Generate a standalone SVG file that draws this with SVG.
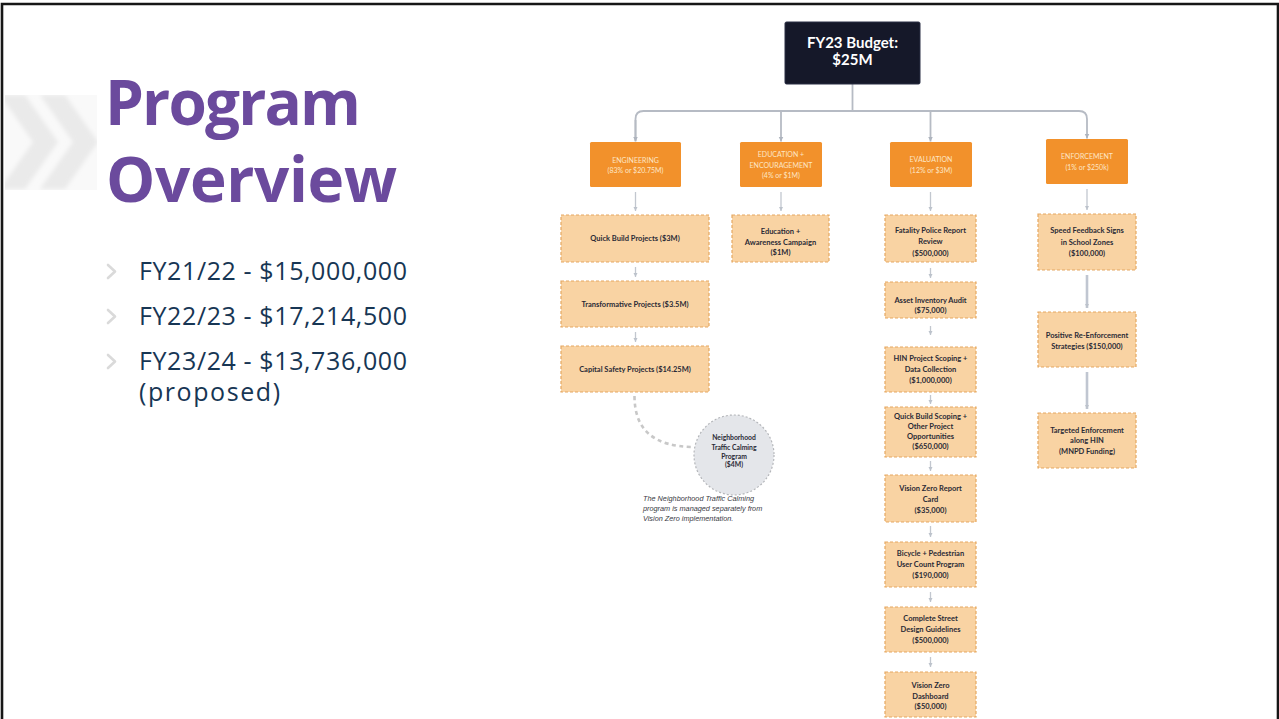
<svg xmlns="http://www.w3.org/2000/svg" width="1279" height="719" viewBox="0 0 1279 719">
  <defs>
    <style>
      .title { font-family: "Open Sans", Lato, sans-serif; font-weight: 700; font-size: 62px; fill: #6b4a9d; }
      .bullet { font-family: "Open Sans", Lato, sans-serif; font-weight: 400; font-size: 25px; fill: #173654; }
      .chev { fill: none; stroke: #dadada; stroke-width: 2.6; stroke-linecap: round; stroke-linejoin: round; }
      .root { fill: #151829; stroke: #2a2f45; stroke-width: 1; }
      .root-t { font-family: Lato, "Noto Sans", sans-serif; font-weight: 700; font-size: 15px; fill: #ffffff; text-anchor: middle; }
      .cat { fill: #f2912b; }
      .cat-t { font-family: Lato, "Noto Sans", sans-serif; font-weight: 400; font-size: 7px; fill: #fde6c6; text-anchor: middle; }
      .leaf { fill: #f9d3a3; stroke: #e5a862; stroke-width: 1.2; stroke-dasharray: 3 2; }
      .leaf-t { font-family: Lato, "Noto Sans", sans-serif; font-weight: 700; font-size: 7.5px; fill: #2a2a36; text-anchor: middle; }
      .ntc { fill: #e4e6ea; stroke: #b4b6ba; stroke-width: 1.2; stroke-dasharray: 2 2; }
      .ntc-t { font-family: Lato, "Noto Sans", sans-serif; font-weight: 700; font-size: 6.8px; fill: #2a2a36; text-anchor: middle; }
      .note { font-family: "Liberation Sans", Arial, sans-serif; font-style: italic; font-size: 7.3px; fill: #3a3a44; }
      .trunk { fill: none; stroke: #b6bbc4; stroke-width: 1.8; }
      .step { fill: none; stroke: #c2c7cf; stroke-width: 1.3; }
      .step-wide { fill: none; stroke: #c0c6d1; stroke-width: 2.6; }
      .sep { fill: none; stroke: #c8c8c8; stroke-width: 2.6; stroke-dasharray: 4 3.5; }
    </style>
    <marker id="ah" markerWidth="6" markerHeight="6" refX="5" refY="3" orient="auto" markerUnits="userSpaceOnUse">
      <path d="M0,0.5 L5,3 L0,5.5 z" fill="#aeb4be"/>
    </marker>
    <marker id="ahs" markerWidth="5" markerHeight="5" refX="4" refY="2.5" orient="auto" markerUnits="userSpaceOnUse">
      <path d="M0,0.5 L4,2.5 L0,4.5 z" fill="#bcc2cb"/>
    </marker>
    <filter id="soft" x="-10%" y="-10%" width="120%" height="120%">
      <feGaussianBlur stdDeviation="2.2"/>
    </filter>
    <clipPath id="decoClip">
      <rect x="5" y="95" width="92" height="95"/>
    </clipPath>
  </defs>

  <!-- page -->
  <rect x="0" y="0" width="1279" height="719" fill="#ffffff"/>
  <path d="M2,719 V4 H1278 V719" fill="none" stroke="#161616" stroke-width="2.6"/>

  <!-- faint double chevron ornament -->
  <g clip-path="url(#decoClip)">
    <rect x="5" y="95" width="92" height="95" fill="#f9f9f9"/>
    <g filter="url(#soft)" fill="#eaeaea">
      <polygon points="0,95 25,95 58,142 25,189 0,189 33,142"/>
      <polygon points="40,95 65,95 98,142 65,189 40,189 73,142"/>
    </g>
  </g>

  <!-- heading -->
  <text class="title" x="105" y="125" textLength="256" lengthAdjust="spacing">Program</text>
  <text class="title" x="106" y="202" textLength="291" lengthAdjust="spacing">Overview</text>

  <!-- budget history -->
  <g id="bullets">
    <path class="chev" d="M108,265 L115,271.5 L108,278"/>
    <path class="chev" d="M108,310 L115,316.5 L108,323"/>
    <path class="chev" d="M108,355 L115,361.5 L108,368"/>
    <text class="bullet" x="139" y="280" textLength="268" lengthAdjust="spacing">FY21/22 - $15,000,000</text>
    <text class="bullet" x="139" y="325" textLength="268" lengthAdjust="spacing">FY22/23 - $17,214,500</text>
    <text class="bullet" x="139" y="370" textLength="268" lengthAdjust="spacing">FY23/24 - $13,736,000</text>
    <text class="bullet" x="139" y="401" textLength="141" lengthAdjust="spacing">(proposed)</text>
  </g>

  <!-- connectors -->
  <g id="connectors">
    <path class="trunk" d="M852.5,84 V111"/>
    <path class="trunk" d="M635.5,141 V119 Q635.5,111 643.5,111 H1079 Q1087,111 1087,119 V138.5" marker-end="url(#ah)"/>
    <path class="trunk" d="M635.5,120 V141.5" marker-end="url(#ah)"/>
    <path class="trunk" d="M781,111 V141.5" marker-end="url(#ah)"/>
    <path class="trunk" d="M930.5,111 V141.5" marker-end="url(#ah)"/>

    <!-- engineering -->
    <path class="step" d="M635.5,192 V211" marker-end="url(#ahs)"/>
    <path class="step" d="M635.5,267 V277" marker-end="url(#ahs)"/>
    <path class="step" d="M635.5,332 V342" marker-end="url(#ahs)"/>
    <path class="sep" d="M634.5,396 C634.5,432 656,446 692,447"/>

    <!-- education -->
    <path class="step" d="M781,192 V211" marker-end="url(#ahs)"/>

    <!-- evaluation -->
    <path class="step" d="M930.5,192 V211" marker-end="url(#ahs)"/>
    <path class="step" d="M930.5,268 V278" marker-end="url(#ahs)"/>
    <path class="step" d="M930.5,326 V335" marker-end="url(#ahs)"/>
    <path class="step" d="M930.5,395 V404" marker-end="url(#ahs)"/>
    <path class="step" d="M930.5,461 V471" marker-end="url(#ahs)"/>
    <path class="step" d="M930.5,526 V537" marker-end="url(#ahs)"/>
    <path class="step" d="M930.5,592 V602" marker-end="url(#ahs)"/>
    <path class="step" d="M930.5,657 V667" marker-end="url(#ahs)"/>

    <!-- enforcement -->
    <path class="step" d="M1087,189 V210" marker-end="url(#ahs)"/>
    <path class="step-wide" d="M1087,275 V308" marker-end="url(#ahs)"/>
    <path class="step-wide" d="M1087,372 V409" marker-end="url(#ahs)"/>
  </g>

  <!-- root -->
  <g id="budget">
    <rect class="root" x="785" y="22" width="135" height="62" rx="1.5"/>
    <text class="root-t" x="852.5" y="48">FY23 Budget:</text>
    <text class="root-t" x="852.5" y="65">$25M</text>
  </g>

  <!-- categories -->
  <g id="engineering">
    <rect class="cat" x="590" y="142" width="91" height="45" rx="1.5"/>
    <text class="cat-t" x="635.5" y="162.5">ENGINEERING</text>
    <text class="cat-t" x="635.5" y="173">(83% or $20.75M)</text>
  </g>
  <g id="education">
    <rect class="cat" x="740" y="142" width="82" height="45" rx="1.5"/>
    <text class="cat-t" x="781" y="157">EDUCATION +</text>
    <text class="cat-t" x="781" y="167.5">ENCOURAGEMENT</text>
    <text class="cat-t" x="781" y="178">(4% or $1M)</text>
  </g>
  <g id="evaluation">
    <rect class="cat" x="890" y="142" width="82" height="45" rx="1.5"/>
    <text class="cat-t" x="931" y="161.5">EVALUATION</text>
    <text class="cat-t" x="931" y="173">(12% or $3M)</text>
  </g>
  <g id="enforcement">
    <rect class="cat" x="1046" y="139" width="82" height="45" rx="1.5"/>
    <text class="cat-t" x="1087" y="159">ENFORCEMENT</text>
    <text class="cat-t" x="1087" y="169.5">(1% or $250k)</text>
  </g>

  <!-- engineering items -->
  <g id="quick-build">
    <rect class="leaf" x="561" y="215" width="148" height="47"/>
    <text class="leaf-t" x="635" y="241">Quick Build Projects ($3M)</text>
  </g>
  <g id="transformative">
    <rect class="leaf" x="561" y="281" width="148" height="46"/>
    <text class="leaf-t" x="635" y="306.5">Transformative Projects ($3.5M)</text>
  </g>
  <g id="capital-safety">
    <rect class="leaf" x="561" y="346" width="148" height="46"/>
    <text class="leaf-t" x="635" y="371.5">Capital Safety Projects ($14.25M)</text>
  </g>
  <g id="traffic-calming">
    <circle class="ntc" cx="734" cy="455" r="40"/>
    <text class="ntc-t" x="734" y="440">Neighborhood</text>
    <text class="ntc-t" x="734" y="449.5">Traffic Calming</text>
    <text class="ntc-t" x="734" y="458.5">Program</text>
    <text class="ntc-t" x="734" y="467">($4M)</text>
    <text class="note" x="643" y="500.5">The Neighborhood Traffic Calming</text>
    <text class="note" x="643" y="510.5">program is managed separately from</text>
    <text class="note" x="643" y="520.5">Vision Zero implementation.</text>
  </g>

  <!-- education item -->
  <g id="awareness">
    <rect class="leaf" x="732" y="215" width="97" height="47"/>
    <text class="leaf-t" x="780.5" y="234">Education +</text>
    <text class="leaf-t" x="780.5" y="244.5">Awareness Campaign</text>
    <text class="leaf-t" x="780.5" y="255">($1M)</text>
  </g>

  <!-- evaluation items -->
  <g id="fatality-review">
    <rect class="leaf" x="885" y="215" width="91" height="47"/>
    <text class="leaf-t" x="930.5" y="232.5">Fatality Police Report</text>
    <text class="leaf-t" x="930.5" y="244">Review</text>
    <text class="leaf-t" x="930.5" y="255.5">($500,000)</text>
  </g>
  <g id="asset-audit">
    <rect class="leaf" x="885" y="282" width="91" height="36"/>
    <text class="leaf-t" x="930.5" y="302.5">Asset Inventory Audit</text>
    <text class="leaf-t" x="930.5" y="312.5">($75,000)</text>
  </g>
  <g id="hin-scoping">
    <rect class="leaf" x="885" y="347" width="91" height="45"/>
    <text class="leaf-t" x="930.5" y="360.5">HIN Project Scoping +</text>
    <text class="leaf-t" x="930.5" y="371.5">Data Collection</text>
    <text class="leaf-t" x="930.5" y="382.5">($1,000,000)</text>
  </g>
  <g id="qb-scoping">
    <rect class="leaf" x="885" y="407" width="91" height="50"/>
    <text class="leaf-t" x="930.5" y="418.5">Quick Build Scoping +</text>
    <text class="leaf-t" x="930.5" y="428.5">Other Project</text>
    <text class="leaf-t" x="930.5" y="438.5">Opportunities</text>
    <text class="leaf-t" x="930.5" y="448.5">($650,000)</text>
  </g>
  <g id="report-card">
    <rect class="leaf" x="885" y="475" width="91" height="47"/>
    <text class="leaf-t" x="930.5" y="490.5">Vision Zero Report</text>
    <text class="leaf-t" x="930.5" y="501.5">Card</text>
    <text class="leaf-t" x="930.5" y="512.5">($35,000)</text>
  </g>
  <g id="user-count">
    <rect class="leaf" x="885" y="542" width="91" height="45"/>
    <text class="leaf-t" x="930.5" y="555.5">Bicycle + Pedestrian</text>
    <text class="leaf-t" x="930.5" y="566.5">User Count Program</text>
    <text class="leaf-t" x="930.5" y="577.5">($190,000)</text>
  </g>
  <g id="street-guidelines">
    <rect class="leaf" x="885" y="607" width="91" height="45"/>
    <text class="leaf-t" x="930.5" y="620.5">Complete Street</text>
    <text class="leaf-t" x="930.5" y="631.5">Design Guidelines</text>
    <text class="leaf-t" x="930.5" y="642.5">($500,000)</text>
  </g>
  <g id="dashboard">
    <rect class="leaf" x="885" y="672" width="91" height="45"/>
    <text class="leaf-t" x="930.5" y="687.5">Vision Zero</text>
    <text class="leaf-t" x="930.5" y="698.5">Dashboard</text>
    <text class="leaf-t" x="930.5" y="709">($50,000)</text>
  </g>

  <!-- enforcement items -->
  <g id="speed-signs">
    <rect class="leaf" x="1038" y="214" width="98" height="56"/>
    <text class="leaf-t" x="1087" y="233">Speed Feedback Signs</text>
    <text class="leaf-t" x="1087" y="244.5">in School Zones</text>
    <text class="leaf-t" x="1087" y="255.5">($100,000)</text>
  </g>
  <g id="positive-reinforcement">
    <rect class="leaf" x="1038" y="312" width="98" height="55"/>
    <text class="leaf-t" x="1087" y="337.5">Positive Re-Enforcement</text>
    <text class="leaf-t" x="1087" y="348.5">Strategies ($150,000)</text>
  </g>
  <g id="targeted-enforcement">
    <rect class="leaf" x="1038" y="413" width="98" height="55"/>
    <text class="leaf-t" x="1087" y="432.5">Targeted Enforcement</text>
    <text class="leaf-t" x="1087" y="443">along HIN</text>
    <text class="leaf-t" x="1087" y="454">(MNPD Funding)</text>
  </g>
</svg>
